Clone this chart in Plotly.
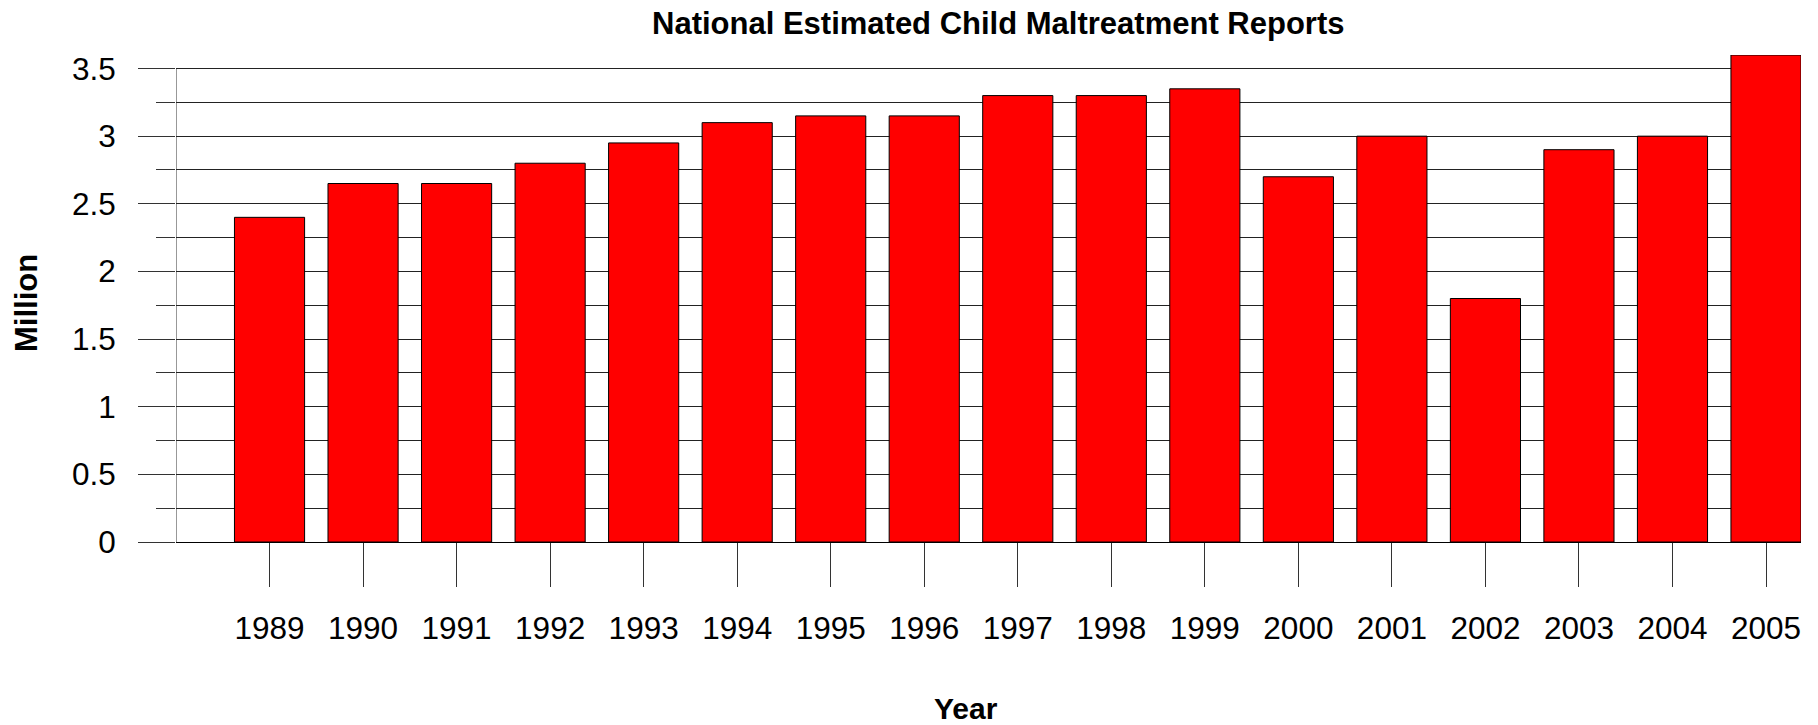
import plotly.graph_objects as go

years = [1989, 1990, 1991, 1992, 1993, 1994, 1995, 1996, 1997, 1998, 1999,
         2000, 2001, 2002, 2003, 2004, 2005]
reports_million = [2.4, 2.65, 2.65, 2.8, 2.95, 3.1, 3.15, 3.15, 3.3, 3.3, 3.35,
                   2.7, 3.0, 1.8, 2.9, 3.0, 3.6]
y_ticks = [0, 0.5, 1, 1.5, 2, 2.5, 3, 3.5]
y_tick_labels = ["0", "0.5", "1", "1.5", "2", "2.5", "3", "3.5"]

W, H = 1818, 725
L, R, T, B = 176, 17, 55, 183
pw = W - L - R
ph = H - T - B

def px_x(px):
    return (px - L) / pw

def px_y(py):
    return (H - B - py) / ph

fig = go.Figure()
fig.add_trace(go.Bar(
    x=years, y=reports_million, width=0.75,
    marker=dict(color="#FF0000", line=dict(color="black", width=1)),
))

fig.add_shape(type="line", xref="x", yref="y", x0=1988, x1=1988, y0=0, y1=3.5,
              line=dict(color="#333333", width=1), layer="below")

font = "Liberation Sans, Arial, sans-serif"
fig.update_layout(
    width=W, height=H,
    margin=dict(l=L, r=R, t=T, b=B),
    plot_bgcolor="white", paper_bgcolor="white",
    showlegend=False,
    font=dict(family=font, color="black"),
    xaxis=dict(
        range=[1988, 2005.374],
        tickvals=years, ticktext=[str(y) for y in years],
        ticks="outside", ticklen=44, tickcolor="#333333", tickwidth=1,
        tickfont=dict(size=31.5, family=font),
        ticklabelstandoff=14,
        showgrid=False, zeroline=False, showline=False,
    ),
    yaxis=dict(
        range=[0, 3.6],
        tickvals=y_ticks, ticktext=y_tick_labels,
        ticks="outside", ticklen=37, tickcolor="#333333", tickwidth=1,
        tickfont=dict(size=31.5, family=font),
        ticklabelstandoff=16,
        showgrid=True, gridcolor="#222222", gridwidth=1,
        zeroline=True, zerolinecolor="black", zerolinewidth=1,
        showline=False,
        minor=dict(dtick=0.25, tick0=0, ticks="outside", ticklen=19,
                   tickcolor="#333333", showgrid=True, gridcolor="#222222", gridwidth=1),
    ),
    annotations=[
        dict(text="<b>National Estimated Child Maltreatment Reports</b>",
             xref="paper", yref="paper", x=px_x(998), y=px_y(24),
             xanchor="center", yanchor="middle", showarrow=False,
             font=dict(size=31, family=font)),
        dict(text="<b>Year</b>", xref="paper", yref="paper", x=px_x(966), y=px_y(708),
             xanchor="center", yanchor="middle", showarrow=False,
             font=dict(size=30, family=font)),
        dict(text="<b>Million</b>", xref="paper", yref="paper", x=px_x(26), y=px_y(303),
             xanchor="center", yanchor="middle", showarrow=False, textangle=-90,
             font=dict(size=31, family=font)),
    ],
)

fig.write_html("out.html")
